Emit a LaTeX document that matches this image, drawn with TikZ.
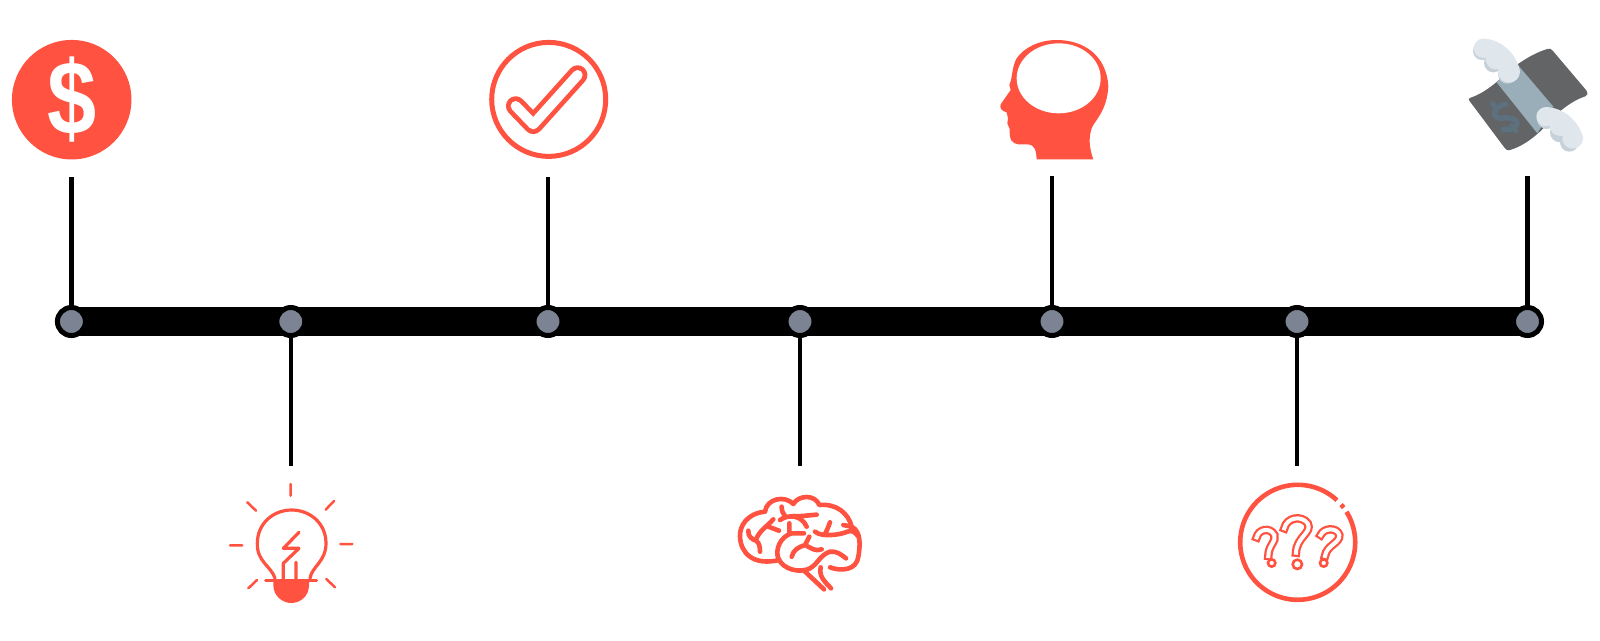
\documentclass[tikz,border=0pt]{standalone}
\usepackage{fontspec}
\setmainfont{Liberation Sans}
\usetikzlibrary{backgrounds}
\definecolor{ired}{HTML}{FF5240}
\definecolor{dotgray}{HTML}{7C8494}
\definecolor{billdark}{HTML}{636466}
\definecolor{billband}{HTML}{9AAEBA}
\definecolor{wingl}{HTML}{DFE6EC}
\definecolor{wingd}{HTML}{C6D1D9}
\definecolor{billmark}{HTML}{5C707E}
\tikzset{
  dotnode/.style={circle,draw=black,line width=5pt,fill=dotgray,minimum size=28pt,inner sep=0pt},
  stem/.style={draw=black,line width=4.5pt},
  barline/.style={draw=black,line width=29pt},
  zoomed/.style={x=0.33333pt,y=-0.33333pt},
  redline/.style={draw=ired,line cap=round,line join=round},
  ring/.style={draw=ired,line width=5pt,fill=none,circle,inner sep=0pt},
}
\begin{document}
\begin{tikzpicture}[x=1pt,y=-1pt]
\useasboundingbox (0,0) rectangle (1600,640);

% timeline
\foreach \n/\xx in {d1/71.4,d2/290.8,d3/548,d4/800,d5/1052,d6/1297,d7/1527.5}
  \node[dotnode] (\n) at (\xx,321.5) {};
\coordinate (t1) at (71.4,176.5);
\coordinate (t3) at (548,176.5);
\coordinate (t5) at (1052,175.5);
\coordinate (t7) at (1527.5,175.5);
\coordinate (b2) at (290.8,465.5);
\coordinate (b4) at (800,465.5);
\coordinate (b6) at (1297,465.5);
\begin{scope}[on background layer]
\fill[white] (0,0) rectangle (1600,640);
\draw[barline] (d1.center) -- (d7.center);
\end{scope}
\foreach \a/\b in {d1/t1,d3/t3,d5/t5,d7/t7,d2/b2,d4/b4,d6/b6}
  \draw[stem] (\a) -- (\b);

% dollar
\node[circle,fill=ired,minimum size=119.5pt,inner sep=0pt] (dollarcoin) at (71.7,99.7) {};
\node[text=white,inner sep=0pt,xscale=0.92,yscale=1.09,font=\fontsize{96}{96}\selectfont\bfseries] (dollarsign) at (71.7,100) {\$};

% check
\node[ring,minimum size=114pt] (checkring) at (548.7,99.4) {};
\begin{scope}[shift={(465,25)},zoomed]
\draw[redline,line width=19.5pt] (152,243) -- (205,298) -- (338,150);
\draw[draw=white,line cap=round,line join=round,line width=10pt] (152,243) -- (205,298) -- (338,150);
\end{scope}

% head
\begin{scope}[shift={(960,25)},zoomed]
\fill[ired] (230,403) -- (400,403) .. controls (388,370) and (385,340) .. (395,310)
  .. controls (405,285) and (440,260) .. (445,185)
  .. controls (440,90) and (370,45) .. (290,45)
  .. controls (235,45) and (190,70) .. (170,100)
  .. controls (155,125) and (158,160) .. (148,180)
  -- (152,195) -- (122,238) .. controls (118,250) and (125,258) .. (140,262)
  -- (144,280) -- (142,295) -- (149,312)
  .. controls (148,345) and (155,355) .. (175,358)
  -- (200,358) .. controls (225,358) and (228,375) .. (230,403) -- cycle;
\fill[white] (296,160) ellipse [x radius=126, y radius=105];
\end{scope}

% flying money
\begin{scope}[shift={(1460,35)},zoomed]
\begin{scope}
\clip (28,197) .. controls (24,192) and (26,190) .. (32,188)
  .. controls (85,170) and (120,130) .. (170,90)
  .. controls (205,65) and (235,50) .. (262,42)
  .. controls (270,40) and (274,42) .. (278,47)
  -- (378,165) .. controls (384,174) and (384,182) .. (376,184)
  .. controls (340,195) and (290,230) .. (250,280)
  .. controls (220,310) and (185,335) .. (150,345)
  .. controls (143,347) and (139,345) .. (135,340) -- cycle;
\fill[billdark] (0,0) rectangle (420,390);
\fill[billband] (110,142) -- (172,88) -- (280,215) -- (232,295) -- cycle;
\end{scope}
\draw[draw=billmark,line width=5.5pt,line cap=round,line join=round]
  (137,208) .. controls (100,212) and (92,250) .. (122,250)
  .. controls (150,245) and (182,255) .. (168,272)
  .. controls (160,285) and (145,285) .. (130,283);
\draw[draw=billmark,line width=5pt,line cap=round] (98,205) -- (108,222) (155,272) -- (168,288);
% wings
\fill[wingd] (66,48) circle [radius=27] (100,84) circle [radius=28] (142,118) circle [radius=28];
\fill[wingl] (70,40) circle [radius=29] (108,72) circle [radius=31] (147,110) circle [radius=33]
  (70,11) .. controls (125,12) and (172,60) .. (180,110) -- (147,112) -- (68,40) -- cycle;
\fill[wingd] (260,254) circle [radius=28] (300,292) circle [radius=30] (328,322) circle [radius=28];
\fill[wingl] (258,245) circle [radius=29] (300,272) circle [radius=31] (338,310) circle [radius=31]
  (255,216) .. controls (310,216) and (360,260) .. (370,312) -- (338,312) -- (255,245) -- cycle;
\end{scope}

% bulb
\begin{scope}[shift={(215,465)},zoomed]
\draw[redline,line width=2.5pt] (227,57) -- (227,92) (97,112) -- (123,137) (357,108) -- (332,134)
  (45,241) -- (82,241) (376,237) -- (412,237) (100,370) -- (126,345) (334,342) -- (360,367);
\draw[redline,line width=3.2pt] (180,340) .. controls (170,305) and (125,290) .. (127,235)
  .. controls (127,175) and (175,135) .. (230,135)
  .. controls (285,135) and (333,175) .. (333,235)
  .. controls (333,290) and (290,305) .. (285,340);
\fill[ired] (175,346) -- (175,360) .. controls (175,395) and (205,414) .. (228,414)
  .. controls (255,414) and (282,395) .. (282,360) -- (282,346) -- cycle;
\draw[redline,line width=3pt] (152,346) -- (305,346);
\draw[redline,line width=3.2pt] (252,202) -- (205,250) -- (252,250) -- (205,295) -- (205,346)
  (243,292) -- (243,346);
\end{scope}

% brain
\begin{scope}[shift={(730,490)},zoomed]
\draw[redline,line width=4.6pt]
  (105,65) .. controls (50,70) and (28,110) .. (30,140)
  .. controls (32,190) and (70,228) .. (148,210)
  (105,65) .. controls (110,25) and (165,15) .. (190,42)
  .. controls (205,15) and (255,12) .. (268,45)
  .. controls (320,40) and (355,70) .. (365,110)
  (340,105) -- (365,110) .. controls (395,125) and (390,170) .. (385,200)
  .. controls (380,240) and (335,245) .. (300,232)
  (222,130) -- (185,130) .. controls (150,140) and (135,180) .. (145,205)
  .. controls (160,240) and (210,250) .. (240,235)
  .. controls (265,220) and (270,195) .. (300,185)
  .. controls (320,182) and (335,195) .. (348,205)
  (178,100) -- (178,128)
  (220,240) -- (282,298)
  (272,232) .. controls (266,260) and (285,275) .. (303,295)
  (255,125) .. controls (275,142) and (330,135) .. (352,125) .. controls (365,120) and (375,125) .. (385,140)
  (300,97) .. controls (295,110) and (292,118) .. (286,130)
  (55,122) .. controls (52,140) and (70,150) .. (78,152) .. controls (88,158) and (90,170) .. (90,185)
  (78,150) .. controls (85,125) and (110,110) .. (130,88)
  (110,108) -- (147,122)
  (155,50) .. controls (155,62) and (158,70) .. (165,78)
  (150,90) .. controls (175,72) and (215,75) .. (230,110)
  (190,78) .. controls (215,80) and (240,75) .. (260,74)
  (185,200) .. controls (190,180) and (205,170) .. (228,165)
  (238,140) -- (225,165) .. controls (245,175) and (255,185) .. (275,178);
\end{scope}

% question marks
\coordinate (qring) at (1297.7,542.3);
\draw[draw=ired,line width=4.6pt,shift={(qring)}] plot[domain=-47:-392,samples=160,smooth] (\x:57.5);
\draw[draw=ired,line width=4.6pt,shift={(qring)}] plot[domain=-37:-41,samples=5] (\x:57.5);
\begin{scope}[shift={(1230,480)},zoomed]
\foreach \p in {
  {(163,145) .. controls (170,112) and (215,105) .. (233,130) .. controls (248,158) and (200,170) .. (198,218)},
  {(80,172) .. controls (85,148) and (120,140) .. (133,165) .. controls (140,185) and (115,195) .. (115,228)},
  {(272,165) .. controls (280,145) and (320,140) .. (328,165) .. controls (330,190) and (290,195) .. (285,228)}}
{
  \draw[draw=ired,line width=8.5pt,line cap=rect,line join=miter] \p;
  \draw[draw=white,line width=4pt,line cap=rect] \p;
}
\draw[draw=ired,line width=2.6pt,fill=white] (202,253) circle [radius=14];
\draw[draw=ired,line width=2.6pt,fill=white] (125,249) circle [radius=11];
\draw[draw=ired,line width=2.6pt,fill=white] (281,249) circle [radius=11];
\end{scope}
\end{tikzpicture}
\end{document}
